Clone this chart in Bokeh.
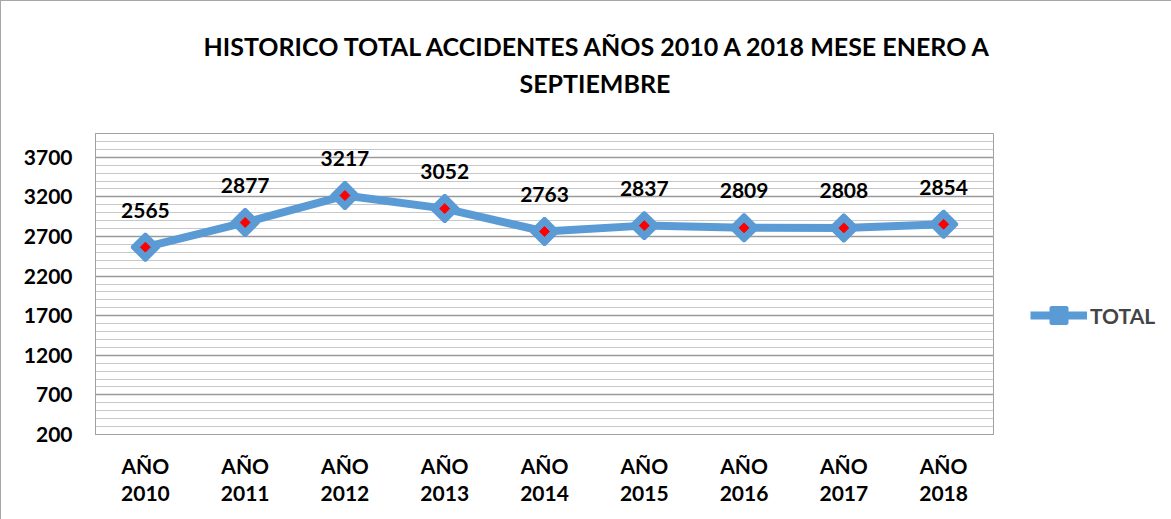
import math
from bokeh.plotting import figure
from bokeh.models import FixedTicker, Legend, LegendItem, Title, ColumnDataSource, Range1d
from bokeh.core.properties import value
from bokeh.embed import file_html
from bokeh.resources import INLINE

years = ["2010", "2011", "2012", "2013", "2014", "2015", "2016", "2017", "2018"]
totals = [2565, 2877, 3217, 3052, 2763, 2837, 2809, 2808, 2854]
y_ticks = [200, 700, 1200, 1700, 2200, 2700, 3200, 3700]
x_tick_labels = ["AÑO\n" + y for y in years]
series_name = "TOTAL"
title_line1 = "HISTORICO TOTAL ACCIDENTES AÑOS 2010 A 2018 MESE ENERO A"
title_line2 = "SEPTIEMBRE"

FONT = "Lato"
BLUE = "#5B9BD5"

xs = list(range(len(years)))
src = ColumnDataSource(dict(x=xs, y=totals, label=[str(t) for t in totals]))

p = figure(frame_width=898, frame_height=301, output_backend="svg", toolbar_location=None,
           x_range=Range1d(-0.5, len(years) - 0.5), y_range=Range1d(200, 4000),
           min_border_left=94, min_border_right=177, min_border_top=132, min_border_bottom=85)
p.styles = {"border": "1px solid #a6a6a6"}
p.outline_line_color = "#a0a0a0"

# axes
p.xaxis.ticker = FixedTicker(ticks=xs)
p.xaxis.major_label_overrides = {i: lab for i, lab in enumerate(x_tick_labels)}
p.yaxis.ticker = FixedTicker(ticks=y_ticks, minor_ticks=list(range(200, 4001, 100)))
for ax in (p.xaxis[0], p.yaxis[0]):
    ax.major_label_text_font = FONT
    ax.major_label_text_font_style = "bold"
    ax.major_label_text_font_size = "21px"
    ax.major_label_text_color = "black"
    ax.major_tick_line_color = None
    ax.minor_tick_line_color = None
    ax.axis_line_color = "#a0a0a0"
p.yaxis.major_label_standoff = 17
p.xaxis.major_label_standoff = 12
p.xaxis.major_label_text_line_height = 1.1

p.xgrid.grid_line_color = None
p.ygrid.grid_line_color = "#9a9a9a"
p.ygrid.grid_line_width = 1.5
p.ygrid.minor_grid_line_color = "#c8c8c8"

line = p.line("x", "y", source=src, line_color=BLUE, line_width=8)
mk = p.scatter("x", "y", source=src, marker="square", angle=math.pi / 4, size=19,
               fill_color=BLUE, line_color=BLUE, line_width=3)
dot = p.scatter("x", "y", source=src, marker="square", angle=math.pi / 4, size=7,
                fill_color="red", line_color="red")

p.text("x", "y", text="label", source=src, y_offset=-37, text_align="center",
       text_baseline="middle", text_font=value(FONT), text_font_style="bold",
       text_font_size="21px", text_color="black")

# title: two lines, with a spacer next to the frame
spacer = Title(text=" ", standoff=31, text_font_size="1px")
t2 = Title(text=title_line2, align="left", offset=424, standoff=4,
           text_font=FONT, text_font_style="bold", text_font_size="25px", text_color="black")
t1 = Title(text=title_line1, align="left", offset=108, standoff=6,
           text_font=FONT, text_font_style="bold", text_font_size="25px", text_color="black")
p.add_layout(spacer, "above")
p.add_layout(t2, "above")
p.add_layout(t1, "above")

legend = Legend(items=[LegendItem(label=series_name, renderers=[line, mk])],
                location=(37, 99), glyph_width=57, glyph_height=40,
                label_text_font=FONT, label_text_font_style="bold",
                label_text_font_size="21px", border_line_color=None,
                background_fill_alpha=0, padding=0, label_standoff=3)
p.add_layout(legend, "right")

open("out.html", "w").write(file_html(p, INLINE))
